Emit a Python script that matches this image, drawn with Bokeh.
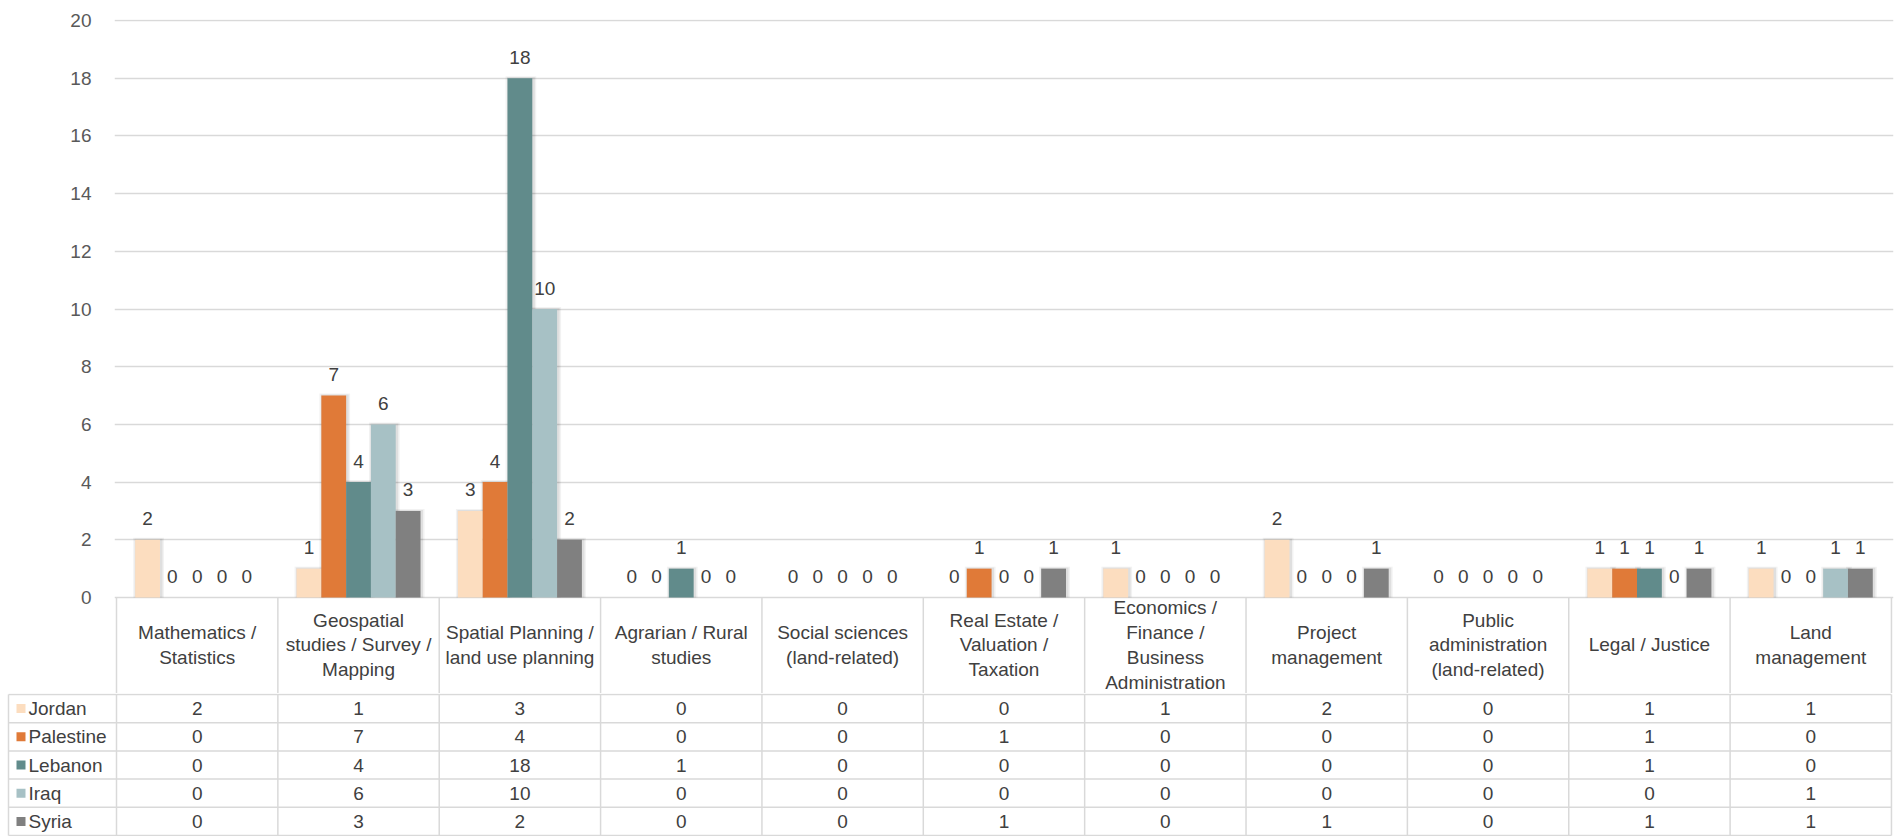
from bokeh.plotting import figure
from bokeh.layouts import column
from bokeh.models import Range1d, FixedTicker, ColumnDataSource
from bokeh.core.properties import value
from bokeh.embed import file_html
from bokeh.resources import INLINE

# ---- data -------------------------------------------------------------
categories = [
    "Mathematics /\nStatistics",
    "Geospatial\nstudies / Survey /\nMapping",
    "Spatial Planning /\nland use planning",
    "Agrarian / Rural\nstudies",
    "Social sciences\n(land-related)",
    "Real Estate /\nValuation /\nTaxation",
    "Economics /\nFinance /\nBusiness\nAdministration",
    "Project\nmanagement",
    "Public\nadministration\n(land-related)",
    "Legal / Justice",
    "Land\nmanagement",
]
series_names = ["Jordan", "Palestine", "Lebanon", "Iraq", "Syria"]
jordan = [2, 1, 3, 0, 0, 0, 1, 2, 0, 1, 1]
palestine = [0, 7, 4, 0, 0, 1, 0, 0, 0, 1, 0]
lebanon = [0, 4, 18, 1, 0, 0, 0, 0, 0, 1, 0]
iraq = [0, 6, 10, 0, 0, 0, 0, 0, 0, 0, 1]
syria = [0, 3, 2, 0, 0, 1, 0, 1, 0, 1, 1]
y_ticks = [0, 2, 4, 6, 8, 10, 12, 14, 16, 18, 20]

series_values = [jordan, palestine, lebanon, iraq, syria]
colors = ["#FCDDBF", "#E07A38", "#618B8B", "#A7C1C5", "#808080"]

# ---- layout constants (pixels) ----------------------------------------
W = 1898
COL_PX = 161.36          # width of one category column
ORIGIN_PX = 116          # left edge of first category column
PX_PER_VAL = 28.85       # vertical pixels per count
ZERO_PX = 597            # baseline of the bars
TOP_H = 693              # chart + header row
ROWS_H = 143             # five data rows of the table
BAR_W = 24.8 / COL_PX

FONT = "Liberation Sans"
FS = "19px"
TXT = "#404040"
GRID = "#d9d9d9"

n_cat = len(categories)

# ---- chart with header row -------------------------------------------
hdr_bottom = -(TOP_H - ZERO_PX) / PX_PER_VAL
p = figure(
    width=W, height=TOP_H,
    x_range=Range1d(-2 / COL_PX, -2 / COL_PX + (W - 114 - 5) / COL_PX),
    y_range=Range1d(hdr_bottom, (ZERO_PX - 19) / PX_PER_VAL),
    output_backend="svg", toolbar_location=None,
    min_border_left=114, min_border_right=5, min_border_top=19, min_border_bottom=0,
    x_axis_location=None,
)
p.frame_align = False
p.outline_line_color = None
p.background_fill_color = "white"
p.xgrid.visible = False
p.ygrid.ticker = FixedTicker(ticks=y_ticks)
p.ygrid.grid_line_color = GRID
p.ygrid.grid_line_width = 1.5

ax = p.yaxis[0]
ax.ticker = FixedTicker(ticks=y_ticks)
ax.axis_line_color = None
ax.major_tick_line_color = None
ax.minor_tick_line_color = None
ax.major_label_standoff = 17
ax.major_label_text_font = FONT
ax.major_label_text_font_size = FS
ax.major_label_text_color = "#595959"

# soft shadow beneath bars
for j, vals in enumerate(series_values):
    xs = [k + 0.5 + (j - 2) * BAR_W for k in range(n_cat)]
    for grow, alpha in ((6, 0.05), (3, 0.08)):
        p.vbar(x=[x + 1 / COL_PX for x in xs], bottom=0,
               top=[v + grow / 3 / PX_PER_VAL if v > 0 else 0 for v in vals],
               width=BAR_W + grow / COL_PX, fill_color="#000000", fill_alpha=alpha,
               line_color=None)

for j, vals in enumerate(series_values):
    xs = [k + 0.5 + (j - 2) * BAR_W for k in range(n_cat)]
    src = ColumnDataSource(dict(x=xs, top=vals, lbl=[str(v) for v in vals]))
    p.vbar(x="x", top="top", bottom=0, width=BAR_W, source=src,
           fill_color=colors[j], line_color=None)
    p.text(x="x", y="top", text="lbl", source=src, text_align="center",
           text_baseline="middle", y_offset=-21, text_font=value(FONT),
           text_font_size=FS, text_color=TXT)

# header row of the data table
col_edges = list(range(n_cat + 1))
p.segment(x0=col_edges, y0=[0] * len(col_edges), x1=col_edges,
          y1=[hdr_bottom] * len(col_edges), line_color=GRID, line_width=1.5)
p.text(x=[k + 0.5 for k in range(n_cat)], y=[hdr_bottom / 2 + 0.02] * n_cat,
       text=categories, text_align="center", text_baseline="middle",
       text_line_height=1.18, text_font=value(FONT), text_font_size=FS,
       text_color=TXT)

# ---- data rows of the table ------------------------------------------
legend_left = -(ORIGIN_PX - 8) / COL_PX
q = figure(
    width=W, height=ROWS_H,
    x_range=Range1d(-ORIGIN_PX / COL_PX, (W - ORIGIN_PX) / COL_PX),
    y_range=Range1d(-0.035, 5.035),
    output_backend="svg", toolbar_location=None, min_border=0,
    x_axis_location=None, y_axis_location=None,
)
q.frame_align = False
q.outline_line_color = None
q.xgrid.visible = False
q.ygrid.visible = False

row_edges = [0, 1, 2, 3, 4, 5]
q.segment(x0=[legend_left] * len(row_edges), y0=row_edges,
          x1=[n_cat] * len(row_edges), y1=row_edges,
          line_color=GRID, line_width=1.5)
v_edges = [legend_left] + col_edges
q.segment(x0=v_edges, y0=[0] * len(v_edges), x1=v_edges, y1=[5] * len(v_edges),
          line_color=GRID, line_width=1.5)

row_y = [4.5 - j for j in range(len(series_names))]
q.scatter(x=[(20.5 - ORIGIN_PX) / COL_PX] * len(series_names), y=row_y,
          marker="square", size=9, fill_color=colors, line_color=None)
q.text(x=[(28 - ORIGIN_PX) / COL_PX] * len(series_names), y=row_y,
       text=series_names, text_align="left", text_baseline="middle",
       text_font=value(FONT), text_font_size=FS, text_color=TXT)

for j, vals in enumerate(series_values):
    q.text(x=[k + 0.5 for k in range(n_cat)], y=[row_y[j]] * n_cat,
           text=[str(v) for v in vals], text_align="center",
           text_baseline="middle", text_font=value(FONT),
           text_font_size=FS, text_color=TXT)

layout = column(p, q, spacing=0)
open("out.html", "w").write(file_html(layout, INLINE))
